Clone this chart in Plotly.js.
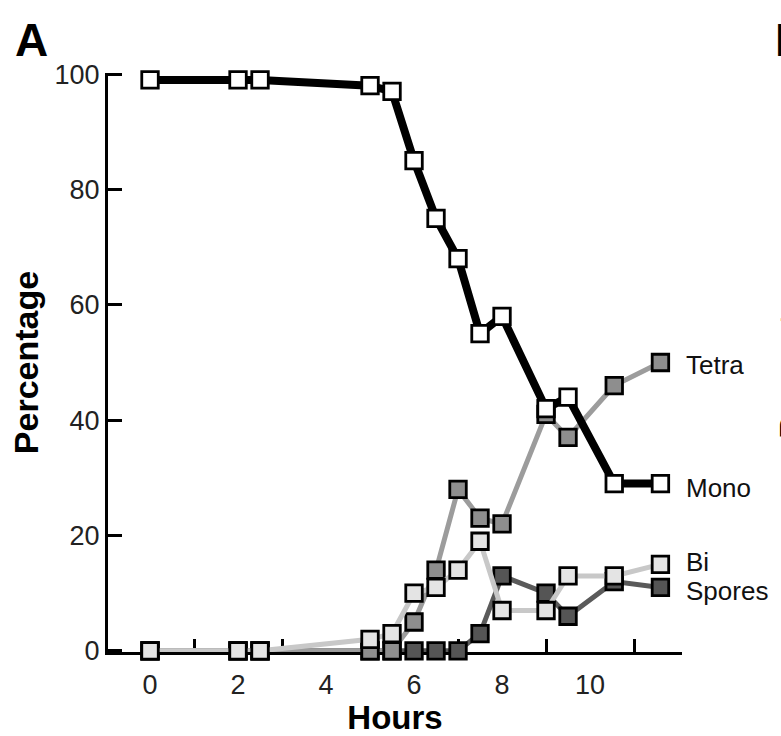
<!DOCTYPE html>
<html>
<head>
<meta charset="utf-8">
<script src="https://cdn.plot.ly/plotly-3.0.1.min.js"></script>
<style>html,body{margin:0;padding:0;background:#fff;}#chart{width:781px;height:736px;}</style>
</head>
<body>
<div id="chart"></div>
<script>
// Data
const hours  = [0, 2, 2.5, 5, 5.5, 6, 6.5, 7, 7.5, 8, 9, 9.5, 10.55, 11.6];
const mono   = [99, 99, 99, 98, 97, 85, 75, 68, 55, 58, 42, 44, 29, 29];
const tetra  = [0, 0, 0, 0, 0, 5, 14, 28, 23, 22, 41, 37, 46, 50];
const bi     = [0, 0, 0, 2, 3, 10, 11, 14, 19, 7, 7, 13, 13, 15];
const spores = [0, 0, 0, 0, 0, 0, 0, 0, 3, 13, 10, 6, 12, 11];
const seriesNames = ['Spores', 'Tetra', 'Bi', 'Mono'];
const xLabelVals = [0, 2, 4, 6, 8, 10];
const xTickMarkVals = [1, 3, 5, 7, 9, 11];
const yTickVals = [0, 20, 40, 60, 80, 100];
const xTitle = 'Hours';
const yTitle = 'Percentage';
const panelLabel = 'A';
const nextPanelLabel = 'B';

const FONT = 'Liberation Sans, Arial, Helvetica, sans-serif';
const seriesValues = [spores, tetra, bi, mono];
const lineColors = ['#5a5a5a', '#9c9c9c', '#c8c8c8', '#000000'];
const fillColors = ['#555555', '#8e8e8e', '#e4e4e4', '#ffffff'];
const lineWidths = [5, 5, 5, 8];
const labelShift = {Spores: -4, Tetra: -2, Bi: 2, Mono: -4};

const traces = seriesValues.map((vals, i) => ({
  type: 'scatter',
  mode: 'lines+markers',
  name: seriesNames[i],
  x: hours,
  y: vals,
  cliponaxis: false,
  line: {color: lineColors[i], width: lineWidths[i]},
  marker: {symbol: 'square', size: 16.5, color: fillColors[i], line: {color: '#000', width: 2.8}},
  hoverinfo: 'x+y+name'
}));
// empty trace so the label axis (x2) is drawn
traces.push({type: 'scatter', mode: 'markers', x: [], y: [], xaxis: 'x2', yaxis: 'y', showlegend: false, hoverinfo: 'skip'});

const annotations = seriesNames.map((name, i) => {
  const vals = seriesValues[i];
  return {
    xref: 'x', yref: 'y',
    x: hours[hours.length - 1], y: vals[vals.length - 1],
    text: name, showarrow: false,
    xanchor: 'left', yanchor: 'middle',
    xshift: 24, yshift: labelShift[name],
    font: {family: FONT, size: 26, color: '#111'}
  };
});
annotations.push({
  xref: 'paper', yref: 'paper', x: -0.134, y: 1.057,
  text: panelLabel, showarrow: false, xanchor: 'center', yanchor: 'middle',
  font: {family: 'Liberation Sans Narrow, Liberation Sans, Arial, sans-serif', size: 46, color: '#000', weight: 'bold'}
});
// fragments of the neighbouring (cut-off) panel at the right edge
annotations.push({
  xref: 'paper', yref: 'paper', x: 1.1585, y: 1.057,
  text: nextPanelLabel, showarrow: false, xanchor: 'left', yanchor: 'middle',
  font: {family: 'Liberation Sans Narrow, Liberation Sans, Arial, sans-serif', size: 46, color: '#000', weight: 'bold'}
});
annotations.push({
  xref: 'paper', yref: 'paper', x: 1.1533, y: 0.527,
  text: yTitle, showarrow: false, xanchor: 'left', yanchor: 'middle', textangle: -90,
  font: {family: FONT, size: 34, color: '#000', weight: 'bold'}
});

const xRange = [-0.955, 12.09];
const layout = {
  width: 781, height: 736,
  margin: {l: 108, r: 99, t: 73, b: 84},
  paper_bgcolor: '#fff', plot_bgcolor: '#fff',
  showlegend: false,
  font: {family: FONT, color: '#222'},
  xaxis: {
    range: xRange, showgrid: false, zeroline: false,
    showline: true, linewidth: 3, linecolor: '#000', layer: 'below traces',
    tickmode: 'array', tickvals: xTickMarkVals, showticklabels: false,
    ticks: 'inside', ticklen: 13, tickwidth: 3, tickcolor: '#000'
  },
  xaxis2: {
    overlaying: 'x', matches: 'x', anchor: 'y', side: 'bottom',
    range: xRange, showgrid: false, zeroline: false, showline: false,
    tickmode: 'array', tickvals: xLabelVals, ticks: '',
    tickfont: {family: FONT, size: 27, color: '#222'}, ticklabelstandoff: 14,
    title: {text: xTitle, font: {family: FONT, size: 33, color: '#000', weight: 'bold'}, standoff: 4}
  },
  yaxis: {
    range: [-0.2, 100.2], showgrid: false, zeroline: false,
    showline: true, linewidth: 3, linecolor: '#000', layer: 'below traces',
    tickmode: 'array', tickvals: yTickVals, ticks: 'inside', ticklen: 14, tickwidth: 3, tickcolor: '#000',
    tickfont: {family: FONT, size: 27, color: '#222'}, ticklabelstandoff: 0,
    title: {text: yTitle, font: {family: FONT, size: 34, color: '#000', weight: 'bold'}, standoff: 6}
  },
  annotations: annotations
};

Plotly.newPlot('chart', traces, layout, {displayModeBar: false, staticPlot: true});
</script>
</body>
</html>
